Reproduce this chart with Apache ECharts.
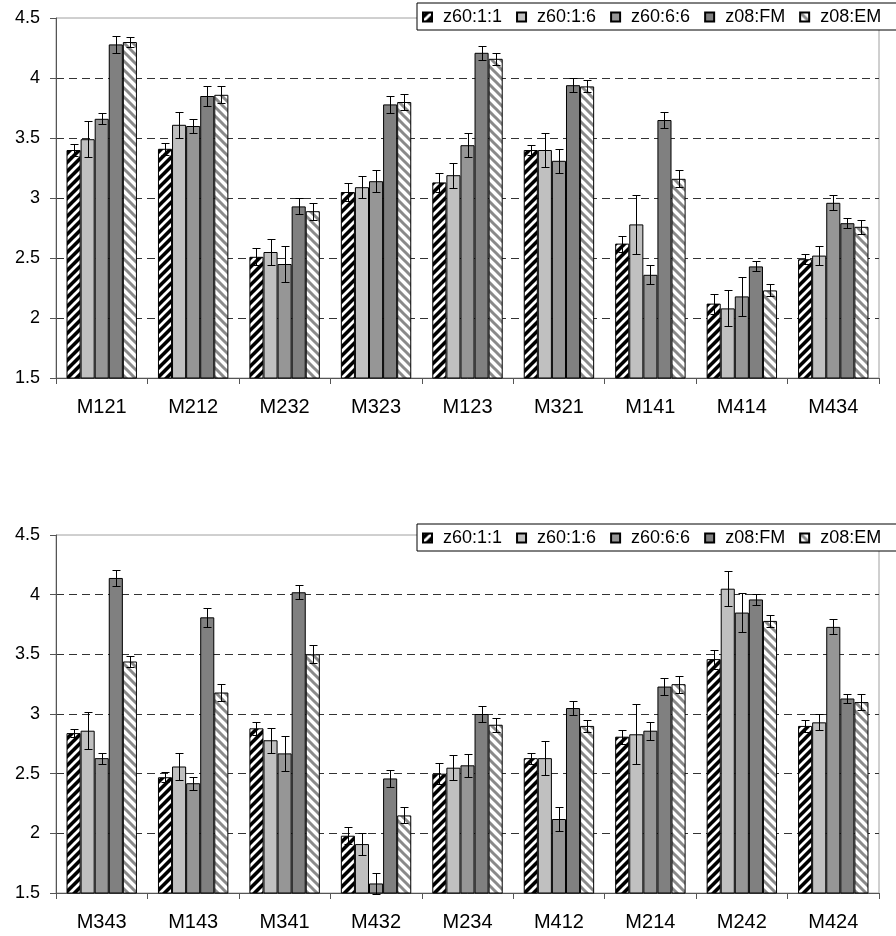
<!DOCTYPE html>
<html>
<head>
<meta charset="utf-8">
<script src="https://cdn.jsdelivr.net/npm/echarts@6/dist/echarts.min.js"></script>
<style>
  html, body { margin: 0; padding: 0; background: #fff; }
  #chart { width: 896px; height: 936px; }
</style>
</head>
<body>
<div id="chart"></div>
<script>
// Series (legend) names
const seriesNames = ['z60:1:1', 'z60:1:6', 'z60:6:6', 'z08:FM', 'z08:EM'];

// Upper panel
const topCategories = ['M121', 'M212', 'M232', 'M323', 'M123', 'M321', 'M141', 'M414', 'M434'];
const top_z60_1_1 = [3.40, 3.41, 2.51, 3.05, 3.13, 3.40, 2.62, 2.12, 2.49];
const top_z60_1_6 = [3.49, 3.61, 2.55, 3.09, 3.19, 3.40, 2.78, 2.08, 2.52];
const top_z60_6_6 = [3.66, 3.60, 2.45, 3.14, 3.44, 3.31, 2.36, 2.18, 2.96];
const top_z08_FM  = [4.28, 3.85, 2.93, 3.78, 4.21, 3.94, 3.65, 2.43, 2.79];
const top_z08_EM  = [4.30, 3.86, 2.89, 3.80, 4.16, 3.93, 3.16, 2.23, 2.76];
const topErr_z60_1_1 = [0.05, 0.05, 0.07, 0.075, 0.08, 0.045, 0.067, 0.083, 0.04];
const topErr_z60_1_6 = [0.15, 0.107, 0.108, 0.092, 0.105, 0.14, 0.247, 0.15, 0.08];
const topErr_z60_6_6 = [0.045, 0.06, 0.15, 0.092, 0.10, 0.10, 0.08, 0.164, 0.062];
const topErr_z08_FM  = [0.07, 0.085, 0.067, 0.07, 0.06, 0.06, 0.064, 0.042, 0.04];
const topErr_z08_EM  = [0.045, 0.072, 0.07, 0.067, 0.05, 0.05, 0.07, 0.05, 0.058];

// Lower panel
const bottomCategories = ['M343', 'M143', 'M341', 'M432', 'M234', 'M412', 'M214', 'M242', 'M424'];
const bot_z60_1_1 = [2.84, 2.47, 2.88, 1.98, 2.50, 2.63, 2.81, 3.46, 2.90];
const bot_z60_1_6 = [2.86, 2.56, 2.78, 1.91, 2.55, 2.63, 2.83, 4.05, 2.93];
const bot_z60_6_6 = [2.63, 2.42, 2.67, 1.58, 2.57, 2.12, 2.86, 3.85, 3.73];
const bot_z08_FM  = [4.14, 3.81, 4.02, 2.46, 3.00, 3.05, 3.23, 3.96, 3.13];
const bot_z08_EM  = [3.44, 3.18, 3.50, 2.15, 2.91, 2.90, 3.25, 3.78, 3.10];
const botErr_z60_1_1 = [0.033, 0.04, 0.056, 0.07, 0.09, 0.045, 0.06, 0.08, 0.047];
const botErr_z60_1_6 = [0.154, 0.11, 0.105, 0.09, 0.105, 0.14, 0.25, 0.146, 0.068];
const botErr_z60_6_6 = [0.047, 0.053, 0.148, 0.085, 0.095, 0.10, 0.075, 0.165, 0.063];
const botErr_z08_FM  = [0.07, 0.08, 0.06, 0.07, 0.065, 0.055, 0.068, 0.047, 0.04];
const botErr_z08_EM  = [0.05, 0.07, 0.075, 0.067, 0.06, 0.05, 0.07, 0.048, 0.067];

// Value axis ticks
const yMin = 1.5, yMax = 4.5, yStep = 0.5;

const FONT = '"Liberation Sans", Arial, sans-serif';

// Diagonal stripe tile for hatched fills
function stripeTile(bg, fg, dir, size, width) {
  const c = document.createElement('canvas');
  c.width = size; c.height = size;
  const g = c.getContext('2d');
  g.fillStyle = bg;
  g.fillRect(0, 0, size, size);
  g.strokeStyle = fg;
  g.lineWidth = width;
  g.lineCap = 'square';
  for (let k = -1; k <= 1; k++) {
    g.beginPath();
    if (dir === '/') {
      g.moveTo(k * size, size);
      g.lineTo(k * size + size, 0);
    } else {
      g.moveTo(k * size, 0);
      g.lineTo(k * size + size, size);
    }
    g.stroke();
  }
  return { image: c, repeat: 'repeat' };
}

const fills = [
  stripeTile('#000000', '#ffffff', '/', 9, 2.8),
  '#c0c0c0',
  '#969696',
  '#808080',
  stripeTile('#ffffff', '#8a8a8a', '\\', 9, 3.0)
];

const CAT_GAP = 0.23;
const N = seriesNames.length;

function errorRenderer(idx) {
  return function (params, api) {
    const cat = api.value(0), v = api.value(1), e = api.value(2);
    const band = api.size([1, 0])[0];
    const bw = band * (1 - CAT_GAP) / N;
    const hi = api.coord([cat, v + e]);
    const lo = api.coord([cat, v - e]);
    const x = Math.round(hi[0] + (idx - (N - 1) / 2) * bw) + 0.5;
    const y1 = Math.round(hi[1]) + 0.5, y2 = Math.round(lo[1]) + 0.5;
    const cap = 4;
    const style = { stroke: '#000', lineWidth: 1 };
    return {
      type: 'group',
      children: [
        { type: 'line', shape: { x1: x, y1: y1, x2: x, y2: y2 }, style: style },
        { type: 'line', shape: { x1: x - cap, y1: y1, x2: x + cap, y2: y1 }, style: style },
        { type: 'line', shape: { x1: x - cap, y1: y2, x2: x + cap, y2: y2 }, style: style }
      ]
    };
  };
}

function panelSeries(gridIdx, values, errors) {
  const out = [];
  values.forEach((vals, i) => {
    out.push({
      name: seriesNames[i],
      type: 'bar',
      xAxisIndex: gridIdx,
      yAxisIndex: gridIdx,
      data: vals,
      barGap: '0%',
      barCategoryGap: (CAT_GAP * 100) + '%',
      itemStyle: { color: fills[i], borderColor: '#000', borderWidth: 1 },
      emphasis: { disabled: true },
      animation: false
    });
  });
  values.forEach((vals, i) => {
    out.push({
      name: seriesNames[i],
      type: 'custom',
      xAxisIndex: gridIdx,
      yAxisIndex: gridIdx,
      renderItem: errorRenderer(i),
      encode: { x: 0, y: 1 },
      data: vals.map((v, j) => [j, v, errors[i][j]]),
      z: 5,
      silent: true,
      animation: false
    });
  });
  return out;
}

function xAxisFor(gridIdx, cats) {
  return {
    type: 'category',
    gridIndex: gridIdx,
    data: cats,
    axisLine: { show: true, lineStyle: { color: '#555', width: 1 } },
    axisTick: { show: true, length: 6, lineStyle: { color: '#555' } },
    axisLabel: { fontFamily: FONT, fontSize: 20, color: '#000', margin: 19 },
    splitLine: { show: false }
  };
}

function yAxisFor(gridIdx) {
  return {
    type: 'value',
    gridIndex: gridIdx,
    min: yMin,
    max: yMax,
    interval: yStep,
    axisLine: { show: true, lineStyle: { color: '#555', width: 1 } },
    axisTick: { show: true, length: 6, lineStyle: { color: '#555' } },
    axisLabel: { fontFamily: FONT, fontSize: 18, color: '#000', margin: 16 },
    splitLine: {
      show: true, showMinLine: false, showMaxLine: false,
      lineStyle: { color: '#333', type: [8, 5], width: 1 }
    }
  };
}

function legendFor(top) {
  return {
    left: 417,
    top: top,
    width: 700,
    orient: 'horizontal',
    data: seriesNames,
    icon: 'rect',
    itemWidth: 9,
    itemHeight: 9,
    itemGap: 14,
    selectedMode: false,
    backgroundColor: '#fff',
    borderColor: '#000',
    borderWidth: 1,
    borderRadius: 0,
    padding: [5, 30, 4, 5],
    textStyle: { fontFamily: FONT, fontSize: 18, color: '#000', padding: [0, 0, 0, 6] }
  };
}

const chart = echarts.init(document.getElementById('chart'), null, { renderer: 'canvas' });
chart.setOption({
  backgroundColor: '#fff',
  animation: false,
  grid: [
    { left: 56, right: 17, top: 18, height: 360, show: true, borderColor: '#a0a0a0', borderWidth: 1, backgroundColor: 'transparent' },
    { left: 56, right: 17, top: 535, height: 358, show: true, borderColor: '#a0a0a0', borderWidth: 1, backgroundColor: 'transparent' }
  ],
  legend: [legendFor(3), legendFor(524)],
  xAxis: [xAxisFor(0, topCategories), xAxisFor(1, bottomCategories)],
  yAxis: [yAxisFor(0), yAxisFor(1)],
  series: [].concat(
    panelSeries(0,
      [top_z60_1_1, top_z60_1_6, top_z60_6_6, top_z08_FM, top_z08_EM],
      [topErr_z60_1_1, topErr_z60_1_6, topErr_z60_6_6, topErr_z08_FM, topErr_z08_EM]),
    panelSeries(1,
      [bot_z60_1_1, bot_z60_1_6, bot_z60_6_6, bot_z08_FM, bot_z08_EM],
      [botErr_z60_1_1, botErr_z60_1_6, botErr_z60_6_6, botErr_z08_FM, botErr_z08_EM])
  )
});
</script>
</body>
</html>
